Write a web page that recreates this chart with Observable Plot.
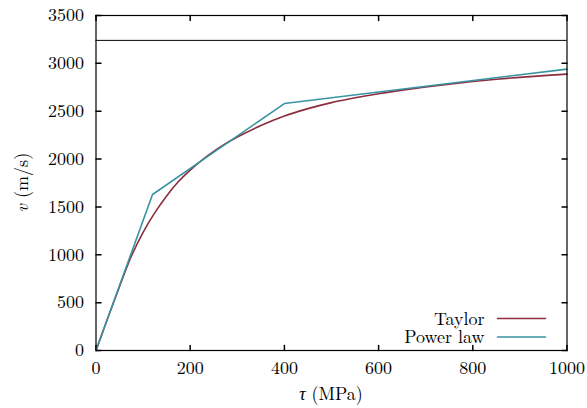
<!DOCTYPE html>
<html>
<head>
<meta charset="utf-8">
<script src="https://cdn.jsdelivr.net/npm/d3@7"></script>
<script src="https://cdn.jsdelivr.net/npm/@observablehq/plot@0.6"></script>
<style>
  html, body { margin: 0; padding: 0; background: #fff; }
  #chart { width: 587px; height: 408px; }
  #chart svg, #chart svg text, #chart svg tspan {
    font-family: "Latin Modern Roman", "Liberation Serif", serif !important;
  }
</style>
</head>
<body>
<div id="chart"></div>
<script>
const taylorTau = [0, 25, 50, 75, 100, 125, 150, 175, 200, 225, 250, 275, 300, 350, 400, 450, 500, 550, 600, 650, 700, 750, 800, 850, 900, 950, 1000];
const taylorV   = [0, 340, 670, 985, 1235, 1440, 1615, 1765, 1885, 1990, 2080, 2160, 2230, 2350, 2450, 2527, 2590, 2640, 2683, 2720, 2753, 2783, 2810, 2834, 2854, 2872, 2888];
const powerTau = [0, 120, 400, 1000];
const powerV   = [0, 1630, 2580, 2940];
const refV = [3240];
const xTicks = [0, 200, 400, 600, 800, 1000];
const yTicks = [0, 500, 1000, 1500, 2000, 2500, 3000, 3500];
const seriesNames = ["Taylor", "Power law"];
const seriesColors = ["#8c2d3d", "#3a93a3"];

const taylor = taylorTau.map((t, i) => ({tau: t, v: taylorV[i]}));
const power = powerTau.map((t, i) => ({tau: t, v: powerV[i]}));

const font = "Latin Modern Roman, Liberation Serif, serif";
const tickLine = {draw(ctx, l) { ctx.moveTo(0, 0); ctx.lineTo(0, -l); }};

const W = 587, H = 408;
const mL = 95.5, mR = 20.5, mT = 15, mB = 58;

const plot = Plot.plot({
  width: W, height: H,
  marginLeft: mL, marginRight: mR, marginTop: mT, marginBottom: mB,
  style: {fontSize: "18px", background: "#fff", color: "#000"},
  x: {domain: [0, 1000]},
  y: {domain: [0, 3500]},
  marks: [
    Plot.axisX(xTicks, {tickSize: 0, tickPadding: 11, fontSize: 18, label: null, tickFormat: d => String(d)}),
    Plot.axisY(yTicks, {tickSize: 0, tickPadding: 12, fontSize: 18, label: null, tickFormat: d => String(d)}),
    Plot.vector(xTicks, {x: d => d, y: 0, rotate: 0, length: 5, anchor: "start", shape: tickLine, stroke: "#000"}),
    Plot.vector(xTicks, {x: d => d, y: 3500, rotate: 180, length: 5, anchor: "start", shape: tickLine, stroke: "#000"}),
    Plot.vector(yTicks, {x: 0, y: d => d, rotate: 90, length: 5, anchor: "start", shape: tickLine, stroke: "#000"}),
    Plot.vector(yTicks, {x: 1000, y: d => d, rotate: -90, length: 5, anchor: "start", shape: tickLine, stroke: "#000"}),
    Plot.ruleY(refV, {stroke: "#000", strokeWidth: 1}),
    Plot.line(taylor, {x: "tau", y: "v", stroke: seriesColors[0], strokeWidth: 1.6, curve: "monotone-x"}),
    Plot.line(power, {x: "tau", y: "v", stroke: seriesColors[1], strokeWidth: 1.6}),
    Plot.frame({stroke: "#000", strokeWidth: 1.2}),
    // legend (two lines in one text block)
    Plot.text([seriesNames.join("\n")], {text: d => d, frameAnchor: "bottom-right", dx: -82.5, dy: -22.5, textAnchor: "end", lineAnchor: "middle", lineHeight: 1.03, fontSize: 18}),
    Plot.vector([0], {frameAnchor: "bottom-right", dx: -69.5, dy: -32, rotate: 90, length: 48, anchor: "start", shape: tickLine, stroke: seriesColors[0], strokeWidth: 1.6}),
    Plot.vector([0], {frameAnchor: "bottom-right", dx: -69.5, dy: -13.5, rotate: 90, length: 48, anchor: "start", shape: tickLine, stroke: seriesColors[1], strokeWidth: 1.6})
  ]
});

plot.setAttribute("font-family", font);
document.getElementById("chart").appendChild(plot);

const svg = d3.select(plot);
const xl = svg.append("text")
  .attr("x", mL + (W - mL - mR) / 2).attr("y", 400)
  .attr("text-anchor", "middle")
  .attr("font-family", font).attr("font-size", 18).attr("fill", "#000");
xl.append("tspan").attr("font-style", "italic").text("τ");
xl.append("tspan").text(" (MPa)");

const yl = svg.append("text")
  .attr("transform", `translate(28,${mT + (H - mT - mB) / 2}) rotate(-90)`)
  .attr("text-anchor", "middle")
  .attr("font-family", font).attr("font-size", 18).attr("fill", "#000");
yl.append("tspan").attr("font-style", "italic").text("v");
yl.append("tspan").text(" (m/s)");
</script>
</body>
</html>
